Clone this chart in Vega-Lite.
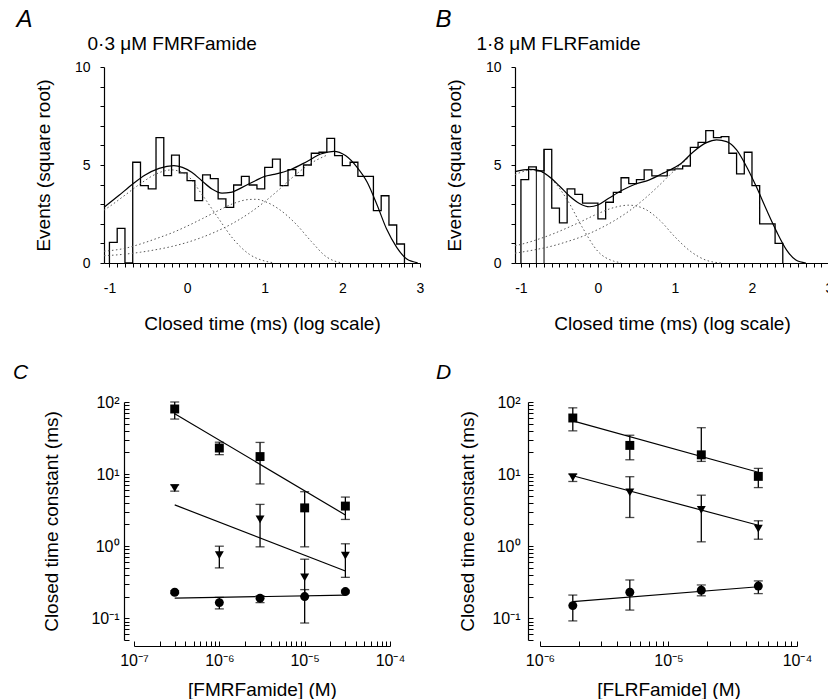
{
"$schema": "https://vega.github.io/schema/vega-lite/v6.json",
"padding": {"left": 12, "top": 8, "right": 0, "bottom": 0},
"background": "white",
"config": {
  "view": {"stroke": null},
  "font": "Liberation Sans",
  "axis": {"grid": false, "ticks": true, "domainColor": "black", "tickColor": "black", "labelColor": "black", "titleColor": "black", "labelFont": "Liberation Sans", "titleFont": "Liberation Sans", "titleFontWeight": "normal", "titleFontSize": 19, "labelFontSize": 14, "labelOverlap": false, "labelFlush": false, "labelBound": false, "domainWidth": 1.2, "tickWidth": 1},
  "title": {"font": "Liberation Sans", "color": "black", "fontWeight": "normal"}
},
"datasets": {
  "histA": [
    {"i":0,"x":-1.0,"h":0},{"i":1,"x":-1.0,"h":1.05},{"i":2,"x":-0.9,"h":1.77},{"i":3,"x":-0.8,"h":0},{"i":4,"x":-0.7,"h":5.14},{"i":5,"x":-0.6,"h":3.95},{"i":6,"x":-0.5,"h":3.78},{"i":7,"x":-0.4,"h":6.4},{"i":8,"x":-0.3,"h":4.46},{"i":9,"x":-0.2,"h":5.5},{"i":10,"x":-0.1,"h":4.6},{"i":11,"x":0.0,"h":4.2},{"i":12,"x":0.1,"h":3.18},{"i":13,"x":0.2,"h":4.5},{"i":14,"x":0.3,"h":4.3},{"i":15,"x":0.4,"h":3.27},{"i":16,"x":0.5,"h":2.84},{"i":17,"x":0.6,"h":3.98},{"i":18,"x":0.7,"h":4.42},{"i":19,"x":0.8,"h":3.98},{"i":20,"x":0.9,"h":3.78},{"i":21,"x":1.0,"h":4.88},{"i":22,"x":1.1,"h":5.3},{"i":23,"x":1.2,"h":3.95},{"i":24,"x":1.3,"h":4.76},{"i":25,"x":1.4,"h":4.46},{"i":26,"x":1.5,"h":5.0},{"i":27,"x":1.6,"h":5.6},{"i":28,"x":1.7,"h":5.65},{"i":29,"x":1.8,"h":6.36},{"i":30,"x":1.9,"h":5.48},{"i":31,"x":2.0,"h":4.97},{"i":32,"x":2.1,"h":5.14},{"i":33,"x":2.2,"h":4.42},{"i":34,"x":2.3,"h":4.42},{"i":35,"x":2.4,"h":2.67},{"i":36,"x":2.5,"h":3.43},{"i":37,"x":2.6,"h":1.94},{"i":38,"x":2.7,"h":0.97},{"i":39,"x":2.8,"h":0}
  ],
  "histB": [
    {"i":0,"x":-1.0,"h":0},{"i":1,"x":-1.0,"h":4.25},{"i":2,"x":-0.9,"h":4.9},{"i":3,"x":-0.8,"h":4.7},{"i":4,"x":-0.7,"h":5.8},{"i":5,"x":-0.6,"h":2.8},{"i":6,"x":-0.5,"h":2.05},{"i":7,"x":-0.4,"h":3.78},{"i":8,"x":-0.3,"h":3.5},{"i":9,"x":-0.2,"h":3.05},{"i":10,"x":-0.1,"h":3.05},{"i":11,"x":0.0,"h":2.25},{"i":12,"x":0.1,"h":3.1},{"i":13,"x":0.2,"h":3.6},{"i":14,"x":0.3,"h":4.35},{"i":15,"x":0.4,"h":4.05},{"i":16,"x":0.5,"h":4.25},{"i":17,"x":0.6,"h":4.75},{"i":18,"x":0.7,"h":4.45},{"i":19,"x":0.8,"h":4.45},{"i":20,"x":0.9,"h":4.75},{"i":21,"x":1.0,"h":4.8},{"i":22,"x":1.1,"h":4.95},{"i":23,"x":1.2,"h":5.9},{"i":24,"x":1.3,"h":6.15},{"i":25,"x":1.4,"h":6.75},{"i":26,"x":1.5,"h":6.4},{"i":27,"x":1.6,"h":6.45},{"i":28,"x":1.7,"h":5.6},{"i":29,"x":1.8,"h":4.55},{"i":30,"x":1.9,"h":5.65},{"i":31,"x":2.0,"h":3.95},{"i":32,"x":2.1,"h":2.0},{"i":33,"x":2.2,"h":2.0},{"i":34,"x":2.3,"h":1.0},{"i":35,"x":2.4,"h":0}
  ],
  "edgesB": [{"x":-0.8,"bot":0,"top":4.9},{"x":-0.7,"bot":0,"top":5.8}],
  "curvesA": [
    {"s":"sum","x":-1.07,"y":2.84},{"s":"sum","x":-0.88,"y":3.44},{"s":"sum","x":-0.7,"y":4.03},{"s":"sum","x":-0.54,"y":4.49},{"s":"sum","x":-0.36,"y":4.83},{"s":"sum","x":-0.17,"y":4.97},{"s":"sum","x":-0.06,"y":4.88},{"s":"sum","x":0.06,"y":4.63},{"s":"sum","x":0.19,"y":4.2},{"s":"sum","x":0.32,"y":3.78},{"s":"sum","x":0.45,"y":3.57},{"s":"sum","x":0.56,"y":3.6},{"s":"sum","x":0.71,"y":3.86},{"s":"sum","x":0.88,"y":4.2},{"s":"sum","x":1.0,"y":4.42},{"s":"sum","x":1.12,"y":4.52},{"s":"sum","x":1.33,"y":4.76},{"s":"sum","x":1.54,"y":5.17},{"s":"sum","x":1.72,"y":5.56},{"s":"sum","x":1.89,"y":5.7},{"s":"sum","x":2.04,"y":5.48},{"s":"sum","x":2.19,"y":4.88},{"s":"sum","x":2.32,"y":4.12},{"s":"sum","x":2.45,"y":2.93},{"s":"sum","x":2.57,"y":1.73},{"s":"sum","x":2.7,"y":0.8},{"s":"sum","x":2.83,"y":0.2},{"s":"sum","x":2.97,"y":0.01},
    {"s":"fast","x":-1.07,"y":2.7},{"s":"fast","x":-1.0,"y":2.88},{"s":"fast","x":-0.8,"y":3.46},{"s":"fast","x":-0.6,"y":4.05},{"s":"fast","x":-0.4,"y":4.54},{"s":"fast","x":-0.2,"y":4.75},{"s":"fast","x":0.0,"y":4.47},{"s":"fast","x":0.2,"y":3.45},{"s":"fast","x":0.4,"y":2.3},{"s":"fast","x":0.6,"y":1.2},{"s":"fast","x":0.8,"y":0.45},{"s":"fast","x":1.0,"y":0.1},{"s":"fast","x":1.1,"y":0.02},
    {"s":"mid","x":-1.07,"y":0.6},{"s":"mid","x":-0.8,"y":0.75},{"s":"mid","x":-0.6,"y":0.97},{"s":"mid","x":-0.4,"y":1.24},{"s":"mid","x":-0.2,"y":1.53},{"s":"mid","x":0.0,"y":1.88},{"s":"mid","x":0.2,"y":2.27},{"s":"mid","x":0.4,"y":2.67},{"s":"mid","x":0.6,"y":3.04},{"s":"mid","x":0.8,"y":3.24},{"s":"mid","x":0.9,"y":3.25},{"s":"mid","x":1.0,"y":3.14},{"s":"mid","x":1.2,"y":2.7},{"s":"mid","x":1.4,"y":2.0},{"s":"mid","x":1.6,"y":1.1},{"s":"mid","x":1.8,"y":0.3},{"s":"mid","x":1.9,"y":0.1},{"s":"mid","x":2.0,"y":0.0},
    {"s":"slow","x":-1.07,"y":0.37},{"s":"slow","x":-0.8,"y":0.45},{"s":"slow","x":-0.6,"y":0.55},{"s":"slow","x":-0.4,"y":0.68},{"s":"slow","x":-0.2,"y":0.84},{"s":"slow","x":0.0,"y":1.05},{"s":"slow","x":0.2,"y":1.32},{"s":"slow","x":0.4,"y":1.65},{"s":"slow","x":0.6,"y":2.05},{"s":"slow","x":0.8,"y":2.54},{"s":"slow","x":1.0,"y":3.13},{"s":"slow","x":1.2,"y":3.8},{"s":"slow","x":1.4,"y":4.51},{"s":"slow","x":1.6,"y":5.1},{"s":"slow","x":1.8,"y":5.5}
  ],
  "curvesB": [
    {"s":"sum","x":-1.077,"y":4.66},{"s":"sum","x":-0.89,"y":4.78},{"s":"sum","x":-0.76,"y":4.71},{"s":"sum","x":-0.63,"y":4.4},{"s":"sum","x":-0.5,"y":3.93},{"s":"sum","x":-0.37,"y":3.42},{"s":"sum","x":-0.24,"y":3.04},{"s":"sum","x":-0.11,"y":2.87},{"s":"sum","x":0.0,"y":2.96},{"s":"sum","x":0.14,"y":3.3},{"s":"sum","x":0.32,"y":3.72},{"s":"sum","x":0.49,"y":4.03},{"s":"sum","x":0.66,"y":4.23},{"s":"sum","x":0.83,"y":4.55},{"s":"sum","x":0.9,"y":4.68},{"s":"sum","x":1.07,"y":5.05},{"s":"sum","x":1.24,"y":5.68},{"s":"sum","x":1.41,"y":6.14},{"s":"sum","x":1.54,"y":6.28},{"s":"sum","x":1.67,"y":6.19},{"s":"sum","x":1.8,"y":5.77},{"s":"sum","x":1.93,"y":4.91},{"s":"sum","x":2.06,"y":3.86},{"s":"sum","x":2.19,"y":2.7},{"s":"sum","x":2.32,"y":1.6},{"s":"sum","x":2.45,"y":0.66},{"s":"sum","x":2.57,"y":0.15},{"s":"sum","x":2.7,"y":0.0},
    {"s":"fast","x":-1.077,"y":4.5},{"s":"fast","x":-1.0,"y":4.63},{"s":"fast","x":-0.85,"y":4.75},{"s":"fast","x":-0.8,"y":4.73},{"s":"fast","x":-0.6,"y":4.27},{"s":"fast","x":-0.4,"y":3.23},{"s":"fast","x":-0.2,"y":1.8},{"s":"fast","x":0.0,"y":0.59},{"s":"fast","x":0.2,"y":0.1},{"s":"fast","x":0.3,"y":0.02},
    {"s":"mid","x":-1.077,"y":0.88},{"s":"mid","x":-1.0,"y":0.95},{"s":"mid","x":-0.8,"y":1.18},{"s":"mid","x":-0.6,"y":1.46},{"s":"mid","x":-0.4,"y":1.79},{"s":"mid","x":-0.2,"y":2.15},{"s":"mid","x":0.0,"y":2.52},{"s":"mid","x":0.2,"y":2.82},{"s":"mid","x":0.4,"y":2.95},{"s":"mid","x":0.6,"y":2.77},{"s":"mid","x":0.8,"y":2.19},{"s":"mid","x":1.0,"y":1.33},{"s":"mid","x":1.2,"y":0.6},{"s":"mid","x":1.4,"y":0.15},{"s":"mid","x":1.6,"y":0.0},
    {"s":"slow","x":-1.077,"y":0.5},{"s":"slow","x":-1.0,"y":0.55},{"s":"slow","x":-0.8,"y":0.69},{"s":"slow","x":-0.6,"y":0.86},{"s":"slow","x":-0.4,"y":1.09},{"s":"slow","x":-0.2,"y":1.36},{"s":"slow","x":0.0,"y":1.71},{"s":"slow","x":0.2,"y":2.13},{"s":"slow","x":0.4,"y":2.64},{"s":"slow","x":0.6,"y":3.26},{"s":"slow","x":0.8,"y":3.98},{"s":"slow","x":1.0,"y":4.75},{"s":"slow","x":1.2,"y":5.45}
  ],
  "pointsC": [
    {"comp":"slow","conc":3e-7,"tau":80,"lo":58,"hi":100},
    {"comp":"slow","conc":1e-6,"tau":23,"lo":18.6,"hi":27.7},
    {"comp":"slow","conc":3e-6,"tau":17.5,"lo":7.3,"hi":27.5},
    {"comp":"slow","conc":1e-5,"tau":3.4,"lo":0.98,"hi":5.7},
    {"comp":"slow","conc":3e-5,"tau":3.6,"lo":2.35,"hi":4.8},
    {"comp":"mid","conc":3e-7,"tau":6.4,"lo":5.8,"hi":7.1},
    {"comp":"mid","conc":1e-6,"tau":0.75,"lo":0.5,"hi":1.0},
    {"comp":"mid","conc":3e-6,"tau":2.35,"lo":0.98,"hi":3.8},
    {"comp":"mid","conc":1e-5,"tau":0.37,"lo":0.2,"hi":0.66},
    {"comp":"mid","conc":3e-5,"tau":0.74,"lo":0.37,"hi":1.08},
    {"comp":"fast","conc":3e-7,"tau":0.23,"lo":0.22,"hi":0.24},
    {"comp":"fast","conc":1e-6,"tau":0.165,"lo":0.135,"hi":0.195},
    {"comp":"fast","conc":3e-6,"tau":0.19,"lo":0.165,"hi":0.205},
    {"comp":"fast","conc":1e-5,"tau":0.2,"lo":0.086,"hi":0.25},
    {"comp":"fast","conc":3e-5,"tau":0.235,"lo":0.225,"hi":0.245}
  ],
  "fitsC": [
    {"comp":"slow","conc":3e-7,"tau":68.9},{"comp":"slow","conc":3e-5,"tau":2.71},
    {"comp":"mid","conc":3e-7,"tau":3.74},{"comp":"mid","conc":3e-5,"tau":0.453},
    {"comp":"fast","conc":3e-7,"tau":0.19},{"comp":"fast","conc":3e-5,"tau":0.21}
  ],
  "pointsD": [
    {"comp":"slow","conc":1.8e-6,"tau":60,"lo":39.8,"hi":83},
    {"comp":"slow","conc":5e-6,"tau":25,"lo":15.8,"hi":34.6},
    {"comp":"slow","conc":1.8e-5,"tau":18.5,"lo":15,"hi":44},
    {"comp":"slow","conc":5e-5,"tau":9.3,"lo":6.5,"hi":12},
    {"comp":"mid","conc":1.8e-6,"tau":9.0,"lo":7.9,"hi":10.0},
    {"comp":"mid","conc":5e-6,"tau":5.6,"lo":2.5,"hi":9.2},
    {"comp":"mid","conc":1.8e-5,"tau":3.2,"lo":1.15,"hi":5.1},
    {"comp":"mid","conc":5e-5,"tau":1.75,"lo":1.25,"hi":2.25},
    {"comp":"fast","conc":1.8e-6,"tau":0.15,"lo":0.092,"hi":0.21},
    {"comp":"fast","conc":5e-6,"tau":0.23,"lo":0.13,"hi":0.34},
    {"comp":"fast","conc":1.8e-5,"tau":0.245,"lo":0.205,"hi":0.29},
    {"comp":"fast","conc":5e-5,"tau":0.28,"lo":0.22,"hi":0.33}
  ],
  "fitsD": [
    {"comp":"slow","conc":1.8e-6,"tau":54.7},{"comp":"slow","conc":5e-5,"tau":10.6},
    {"comp":"mid","conc":1.8e-6,"tau":9.5},{"comp":"mid","conc":5e-5,"tau":1.95},
    {"comp":"fast","conc":1.8e-6,"tau":0.17},{"comp":"fast","conc":5e-5,"tau":0.274}
  ]
},
"columns": 2,
"align": "none",
"spacing": {"row": 29, "column": 11},
"concat": [
  {"width": 316, "height": 196,
   "title": {"text": "A", "anchor": "start", "fontStyle": "italic", "fontSize": 24, "dx": -18, "offset": 2},
   "resolve": {"axis": {"x": "independent", "y": "independent"}},
   "layer": [
     {"data": {"name": "histA"}, "mark": {"type": "line", "interpolate": "step-after", "color": "black", "strokeWidth": 1.3},
      "encoding": {
       "x": {"field": "x", "type": "quantitative", "scale": {"domain": [-1.07, 3], "nice": false, "zero": false},
             "axis": {"orient": "bottom", "title": "Closed time (ms) (log scale)", "values": [-1,-0.9,-0.8,-0.7,-0.6,-0.5,-0.4,-0.3,-0.2,-0.1,0,0.1,0.2,0.3,0.4,0.5,0.6,0.7,0.8,0.9,1,1.1,1.2,1.3,1.4,1.5,1.6,1.7,1.8,1.9,2,2.1,2.2,2.3,2.4,2.5,2.6,2.7,2.8,2.9,3], "labelExpr": "abs(datum.value - round(datum.value)) < 0.01 ? toString(round(datum.value)) : ''", "ticks": true, "tickSize": 4, "labelOverlap": false, "labelPadding": 14, "titlePadding": 19}},
       "y": {"field": "h", "type": "quantitative", "scale": {"domain": [0, 10], "nice": false},
             "axis": {"orient": "left", "title": "Events (square root)", "values": [0,1,2,3,4,5,6,7,8,9,10], "labelExpr": "datum.value % 5 == 0 ? toString(datum.value) : ''", "ticks": true, "tickSize": 4, "labelOverlap": false, "labelPadding": 10, "titlePadding": 21}},
       "order": {"field": "i", "type": "quantitative"}}},
     {"data": {"name": "curvesA"}, "transform": [{"filter": "datum.s != 'sum'"}],
      "mark": {"type": "line", "interpolate": "monotone", "color": "#555", "strokeWidth": 1, "strokeDash": [1.5, 2.5]},
      "encoding": {"x": {"field": "x", "type": "quantitative", "axis": {"orient": "top", "domain": false, "ticks": false, "labels": false, "grid": false, "title": "0·3 μM FMRFamide", "titleFontSize": 19, "titleAnchor": "start", "titleAlign": "left", "titleX": -17, "titlePadding": 14}},
                   "y": {"field": "y", "type": "quantitative", "axis": null}, "detail": {"field": "s", "type": "nominal"}}},
     {"data": {"name": "curvesA"}, "transform": [{"filter": "datum.s == 'sum'"}],
      "mark": {"type": "line", "interpolate": "monotone", "color": "black", "strokeWidth": 1.2},
      "encoding": {"x": {"field": "x", "type": "quantitative", "axis": null}, "y": {"field": "y", "type": "quantitative", "axis": null}}}
   ]
  },
  {"width": 314, "height": 196,
   "title": {"text": "B", "anchor": "start", "fontStyle": "italic", "fontSize": 24, "dx": -10, "offset": 2},
   "resolve": {"axis": {"x": "independent", "y": "independent"}},
   "layer": [
     {"data": {"name": "histB"}, "mark": {"type": "line", "interpolate": "step-after", "color": "black", "strokeWidth": 1.3},
      "encoding": {
       "x": {"field": "x", "type": "quantitative", "scale": {"domain": [-1.077, 3], "nice": false, "zero": false},
             "axis": {"orient": "bottom", "title": "Closed time (ms) (log scale)", "values": [-1,-0.9,-0.8,-0.7,-0.6,-0.5,-0.4,-0.3,-0.2,-0.1,0,0.1,0.2,0.3,0.4,0.5,0.6,0.7,0.8,0.9,1,1.1,1.2,1.3,1.4,1.5,1.6,1.7,1.8,1.9,2,2.1,2.2,2.3,2.4,2.5,2.6,2.7,2.8,2.9,3], "labelExpr": "abs(datum.value - round(datum.value)) < 0.01 ? toString(round(datum.value)) : ''", "ticks": true, "tickSize": 4, "labelOverlap": false, "labelPadding": 14, "titlePadding": 19}},
       "y": {"field": "h", "type": "quantitative", "scale": {"domain": [0, 10], "nice": false},
             "axis": {"orient": "left", "title": "Events (square root)", "values": [0,1,2,3,4,5,6,7,8,9,10], "labelExpr": "datum.value % 5 == 0 ? toString(datum.value) : ''", "ticks": true, "tickSize": 4, "labelOverlap": false, "labelPadding": 10, "titlePadding": 21}},
       "order": {"field": "i", "type": "quantitative"}}},
     {"data": {"name": "edgesB"}, "mark": {"type": "rule", "color": "black", "strokeWidth": 1},
      "encoding": {"x": {"field": "x", "type": "quantitative", "axis": null}, "y": {"field": "bot", "type": "quantitative", "axis": null}, "y2": {"field": "top"}}},
     {"data": {"name": "curvesB"}, "transform": [{"filter": "datum.s != 'sum'"}],
      "mark": {"type": "line", "interpolate": "monotone", "color": "#555", "strokeWidth": 1, "strokeDash": [1.5, 2.5]},
      "encoding": {"x": {"field": "x", "type": "quantitative", "axis": {"orient": "top", "domain": false, "ticks": false, "labels": false, "grid": false, "title": "1·8 μM FLRFamide", "titleFontSize": 19, "titleAnchor": "start", "titleAlign": "left", "titleX": -39, "titlePadding": 14}},
                   "y": {"field": "y", "type": "quantitative", "axis": null}, "detail": {"field": "s", "type": "nominal"}}},
     {"data": {"name": "curvesB"}, "transform": [{"filter": "datum.s == 'sum'"}],
      "mark": {"type": "line", "interpolate": "monotone", "color": "black", "strokeWidth": 1.2},
      "encoding": {"x": {"field": "x", "type": "quantitative", "axis": null}, "y": {"field": "y", "type": "quantitative", "axis": null}}}
   ]
  },
  {"width": 286, "height": 238,
   "title": {"text": "C", "anchor": "start", "fontStyle": "italic", "fontSize": 21, "dx": -30, "offset": 11},
   "resolve": {"axis": {"x": "independent", "y": "independent"}},
   "layer": [
    {"data": {"name": "fitsC"}, "mark": {"type": "line", "color": "black", "strokeWidth": 1.2},
     "encoding": {
      "x": {"field": "conc", "type": "quantitative", "scale": {"type": "log", "domain": [1e-7, 1e-4], "nice": false, "range": [30, 286]},
            "axis": {"orient": "bottom", "title": "[FMRFamide] (M)", "offset": 6, "values": [1e-7,2e-7,3e-7,4e-7,5e-7,6e-7,7e-7,8e-7,9e-7,1e-6,2e-6,3e-6,4e-6,5e-6,6e-6,7e-6,8e-6,9e-6,1e-5,2e-5,3e-5,4e-5,5e-5,6e-5,7e-5,8e-5,9e-5,1e-4],
                     "labelExpr": "datum.value == 1e-7 ? '10⁻⁷' : datum.value == 1e-6 ? '10⁻⁶' : datum.value == 1e-5 ? '10⁻⁵' : datum.value == 1e-4 ? '10⁻⁴' : ''",
                     "ticks": true, "tickSize": -5, "labelOverlap": false, "labelFontSize": 16, "labelPadding": 11, "titlePadding": 12}},
      "y": {"field": "tau", "type": "quantitative", "scale": {"type": "log", "domain": [0.05, 100], "nice": false},
            "axis": {"orient": "left", "title": "Closed time constant (ms)", "offset": -20, "values": [0.05,0.06,0.07,0.08,0.09,0.1,0.2,0.3,0.4,0.5,0.6,0.7,0.8,0.9,1,2,3,4,5,6,7,8,9,10,20,30,40,50,60,70,80,90,100],
                     "labelExpr": "datum.value == 0.1 ? '10⁻¹' : datum.value == 1 ? '10⁰' : datum.value == 10 ? '10¹' : datum.value == 100 ? '10²' : ''",
                     "ticks": true, "tickSize": -5, "labelOverlap": false, "labelFontSize": 16, "labelPadding": 10, "titlePadding": 29}},
      "detail": {"field": "comp", "type": "nominal"}}},
    {"data": {"name": "pointsC"}, "mark": {"type": "rule", "color": "black", "strokeWidth": 1.3},
     "encoding": {"x": {"field": "conc", "type": "quantitative", "axis": null}, "y": {"field": "lo", "type": "quantitative", "axis": null}, "y2": {"field": "hi"}}},
    {"data": {"name": "pointsC"}, "mark": {"type": "tick", "orient": "horizontal", "color": "black", "size": 9, "thickness": 1.3},
     "encoding": {"x": {"field": "conc", "type": "quantitative", "axis": null}, "y": {"field": "lo", "type": "quantitative", "axis": null}}},
    {"data": {"name": "pointsC"}, "mark": {"type": "tick", "orient": "horizontal", "color": "black", "size": 9, "thickness": 1.3},
     "encoding": {"x": {"field": "conc", "type": "quantitative", "axis": null}, "y": {"field": "hi", "type": "quantitative", "axis": null}}},
    {"data": {"name": "pointsC"}, "mark": {"type": "point", "filled": true, "color": "black", "size": 80, "opacity": 1},
     "encoding": {"x": {"field": "conc", "type": "quantitative", "axis": null}, "y": {"field": "tau", "type": "quantitative", "axis": null},
      "shape": {"field": "comp", "type": "nominal", "scale": {"domain": ["slow", "mid", "fast"], "range": ["square", "triangle-down", "circle"]}, "legend": null}}}
   ]
  },
  {"width": 280, "height": 238,
   "title": {"text": "D", "anchor": "start", "fontStyle": "italic", "fontSize": 21, "dx": -23, "offset": 11},
   "resolve": {"axis": {"x": "independent", "y": "independent"}},
   "layer": [
    {"data": {"name": "fitsD"}, "mark": {"type": "line", "color": "black", "strokeWidth": 1.2},
     "encoding": {
      "x": {"field": "conc", "type": "quantitative", "scale": {"type": "log", "domain": [1e-6, 1e-4], "nice": false, "range": [23, 280]},
            "axis": {"orient": "bottom", "title": "[FLRFamide] (M)", "offset": 6, "values": [1e-6,2e-6,3e-6,4e-6,5e-6,6e-6,7e-6,8e-6,9e-6,1e-5,2e-5,3e-5,4e-5,5e-5,6e-5,7e-5,8e-5,9e-5,1e-4],
                     "labelExpr": "datum.value == 1e-6 ? '10⁻⁶' : datum.value == 1e-5 ? '10⁻⁵' : datum.value == 1e-4 ? '10⁻⁴' : ''",
                     "ticks": true, "tickSize": -5, "labelOverlap": false, "labelFontSize": 16, "labelPadding": 11, "titlePadding": 12}},
      "y": {"field": "tau", "type": "quantitative", "scale": {"type": "log", "domain": [0.05, 100], "nice": false},
            "axis": {"orient": "left", "title": "Closed time constant (ms)", "offset": -11, "values": [0.05,0.06,0.07,0.08,0.09,0.1,0.2,0.3,0.4,0.5,0.6,0.7,0.8,0.9,1,2,3,4,5,6,7,8,9,10,20,30,40,50,60,70,80,90,100],
                     "labelExpr": "datum.value == 0.1 ? '10⁻¹' : datum.value == 1 ? '10⁰' : datum.value == 10 ? '10¹' : datum.value == 100 ? '10²' : ''",
                     "ticks": true, "tickSize": -5, "labelOverlap": false, "labelFontSize": 16, "labelPadding": 13, "titlePadding": 14}},
      "detail": {"field": "comp", "type": "nominal"}}},
    {"data": {"name": "pointsD"}, "mark": {"type": "rule", "color": "black", "strokeWidth": 1.3},
     "encoding": {"x": {"field": "conc", "type": "quantitative", "axis": null}, "y": {"field": "lo", "type": "quantitative", "axis": null}, "y2": {"field": "hi"}}},
    {"data": {"name": "pointsD"}, "mark": {"type": "tick", "orient": "horizontal", "color": "black", "size": 9, "thickness": 1.3},
     "encoding": {"x": {"field": "conc", "type": "quantitative", "axis": null}, "y": {"field": "lo", "type": "quantitative", "axis": null}}},
    {"data": {"name": "pointsD"}, "mark": {"type": "tick", "orient": "horizontal", "color": "black", "size": 9, "thickness": 1.3},
     "encoding": {"x": {"field": "conc", "type": "quantitative", "axis": null}, "y": {"field": "hi", "type": "quantitative", "axis": null}}},
    {"data": {"name": "pointsD"}, "mark": {"type": "point", "filled": true, "color": "black", "size": 80, "opacity": 1},
     "encoding": {"x": {"field": "conc", "type": "quantitative", "axis": null}, "y": {"field": "tau", "type": "quantitative", "axis": null},
      "shape": {"field": "comp", "type": "nominal", "scale": {"domain": ["slow", "mid", "fast"], "range": ["square", "triangle-down", "circle"]}, "legend": null}}}
   ]
  }
]
}
